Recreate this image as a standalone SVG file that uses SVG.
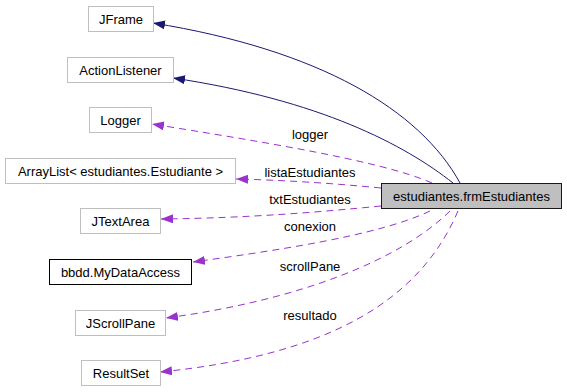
<svg xmlns="http://www.w3.org/2000/svg" width="567" height="392" viewBox="0 0 567 392">
  <style>
    text { font-family: "Liberation Sans", Arial, sans-serif; font-size: 13px; fill: #000; }
    .node text { text-anchor: middle; }
    .ext { fill: #fff; stroke: #bfbfbf; stroke-width: 1; }
    .doc { fill: #fff; stroke: #000; stroke-width: 1; }
    .main { fill: #bfbfbf; stroke: #1a1a1a; stroke-width: 1; }
    .inherit { fill: none; stroke: #191970; stroke-width: 1; marker-end: url(#navyArrow); }
    .usage { fill: none; stroke: #9a32cd; stroke-width: 1; stroke-dasharray: 7 5; marker-end: url(#purpleArrow); }
    .elabel { text-anchor: middle; }
  </style>
  <defs>
    <marker id="navyArrow" viewBox="0 0 12 9" refX="12" refY="4.5" markerWidth="12" markerHeight="9" markerUnits="userSpaceOnUse" orient="auto">
      <path d="M0,0 L12,4.5 L0,9 z" fill="#191970"/>
    </marker>
    <marker id="purpleArrow" viewBox="0 0 12 9" refX="12" refY="4.5" markerWidth="12" markerHeight="9" markerUnits="userSpaceOnUse" orient="auto">
      <path d="M0,0 L12,4.5 L0,9 z" fill="#9a32cd"/>
    </marker>
  </defs>

  <rect width="567" height="392" fill="#fff"/>

  <!-- connectors: solid navy = inheritance, dashed purple = usage -->
  <g id="edges">
    <path class="inherit" d="M460,183 C420,110 320,50 153,23"/>
    <path class="inherit" d="M453,183 C405,145 320,100 173,78"/>
    <path class="usage" d="M432,183 C380,160 250,140 152,124"/>
    <path class="usage" d="M381,188 C330,183 280,180 236,179"/>
    <path class="usage" d="M381,206 C320,212 250,218 161,219"/>
    <path class="usage" d="M430,211 C380,235 280,250 193,262"/>
    <path class="usage" d="M450,211 C400,260 300,300 166,318"/>
    <path class="usage" d="M458,211 C420,300 330,355 160,372"/>
    <text class="elabel" x="310" y="139">logger</text>
    <text class="elabel" x="310" y="177">listaEstudiantes</text>
    <text class="elabel" x="310" y="204">txtEstudiantes</text>
    <text class="elabel" x="310" y="231">conexion</text>
    <text class="elabel" x="310" y="271">scrollPane</text>
    <text class="elabel" x="310" y="320">resultado</text>
  </g>

  <g id="node-frmEstudiantes" class="node">
    <rect class="main" x="381.5" y="183.5" width="180" height="25"/>
    <text x="471.5" y="200.5">estudiantes.frmEstudiantes</text>
  </g>
  <g id="node-JFrame" class="node">
    <rect class="ext" x="88.5" y="6.5" width="65" height="25"/>
    <text x="121" y="23.5">JFrame</text>
  </g>
  <g id="node-ActionListener" class="node">
    <rect class="ext" x="67.5" y="57.5" width="106" height="25"/>
    <text x="120.5" y="74.5">ActionListener</text>
  </g>
  <g id="node-Logger" class="node">
    <rect class="ext" x="89.5" y="107.5" width="62" height="25"/>
    <text x="120.5" y="124.5">Logger</text>
  </g>
  <g id="node-ArrayList" class="node">
    <rect class="ext" x="5.5" y="158.5" width="230" height="25"/>
    <text x="120.5" y="175.5">ArrayList&lt; estudiantes.Estudiante &gt;</text>
  </g>
  <g id="node-JTextArea" class="node">
    <rect class="ext" x="80.5" y="208.5" width="80" height="25"/>
    <text x="120.5" y="225.5">JTextArea</text>
  </g>
  <g id="node-MyDataAccess" class="node">
    <rect class="doc" x="49.5" y="259.5" width="142" height="25"/>
    <text x="120.5" y="276.5">bbdd.MyDataAccess</text>
  </g>
  <g id="node-JScrollPane" class="node">
    <rect class="ext" x="75.5" y="310.5" width="90" height="25"/>
    <text x="120.5" y="327.5">JScrollPane</text>
  </g>
  <g id="node-ResultSet" class="node">
    <rect class="ext" x="81.5" y="360.5" width="79" height="25"/>
    <text x="121" y="377.5">ResultSet</text>
  </g>
</svg>
